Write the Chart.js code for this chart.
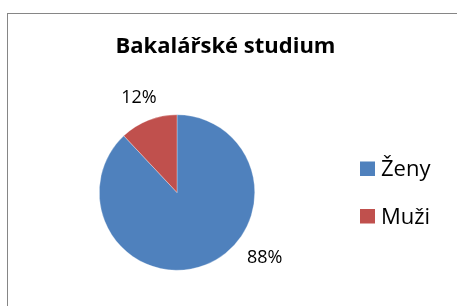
<!DOCTYPE html>
<html>
<head>
<meta charset="utf-8">
<script src="https://cdn.jsdelivr.net/npm/chart.js@4/dist/chart.umd.min.js"></script>
<style>
  html, body { margin: 0; padding: 0; background: #fff; }
  #wrap { position: relative; width: 457px; height: 306px; overflow: hidden; }
  canvas { display: block; }
</style>
</head>
<body>
<div id="wrap"><canvas id="c" width="457" height="306"></canvas></div>
<script>
const chartTitle = "Bakalářské studium";
const categories = ["Ženy", "Muži"];
const values = [88, 12];
const colors = ["#4F81BD", "#C0504D"];

const FONT = '"Open Sans", "Liberation Sans", sans-serif';

const decor = {
  id: 'decor',
  beforeDraw(chart) {
    const ctx = chart.ctx;
    ctx.save();
    ctx.fillStyle = '#fff';
    ctx.fillRect(0, 0, chart.width, chart.height);
    ctx.strokeStyle = '#868686';
    ctx.lineWidth = 1;
    ctx.strokeRect(7.5, 13.5, 600, 400);
    // title
    ctx.fillStyle = '#000';
    ctx.font = 'bold 22px ' + FONT;
    ctx.textAlign = 'center';
    ctx.textBaseline = 'alphabetic';
    ctx.fillText(chartTitle, 225.5, 52.5);
    ctx.restore();
  },
  afterDatasetsDraw(chart) {
    const ctx = chart.ctx;
    const meta = chart.getDatasetMeta(0);
    const data = chart.data.datasets[0].data;
    const total = data.reduce((a, b) => a + b, 0);
    const place = [{ frac: 0.398, k: 1.395 }, { frac: 0.5, k: 1.33 }];
    ctx.save();
    ctx.fillStyle = '#000';
    ctx.font = '18px ' + FONT;
    ctx.textAlign = 'center';
    ctx.textBaseline = 'alphabetic';
    meta.data.forEach((arc, i) => {
      const p = arc.getProps(['x', 'y', 'startAngle', 'endAngle', 'outerRadius'], true);
      const a = p.startAngle + place[i].frac * (p.endAngle - p.startAngle);
      const r = p.outerRadius * place[i].k;
      const tx = p.x + Math.cos(a) * r;
      const ty = p.y + Math.sin(a) * r;
      const pct = Math.round(data[i] / total * 100) + '%';
      ctx.fillText(pct, tx, ty + 6.5);
    });
    // legend
    ctx.font = '22px ' + FONT;
    ctx.textAlign = 'left';
    chart.data.labels.forEach((lab, i) => {
      const by = 176 + i * 47.5;
      ctx.fillStyle = chart.data.datasets[0].backgroundColor[i];
      ctx.fillRect(360, by - 14.5, 15, 14.5);
      ctx.fillStyle = '#000';
      ctx.fillText(lab, 381, by);
    });
    ctx.restore();
  }
};

new Chart(document.getElementById('c'), {
  type: 'pie',
  data: {
    labels: categories,
    datasets: [{
      data: values,
      backgroundColor: colors,
      borderColor: 'rgba(255,255,255,0.6)',
      borderWidth: 0.5
    }]
  },
  options: {
    responsive: false,
    animation: false,
    layout: { padding: { left: 99, right: 202, top: 114.5, bottom: 35.5 } },
    plugins: {
      legend: { display: false },
      title: { display: false },
      tooltip: { enabled: false }
    }
  },
  plugins: [decor]
});
</script>
</body>
</html>
